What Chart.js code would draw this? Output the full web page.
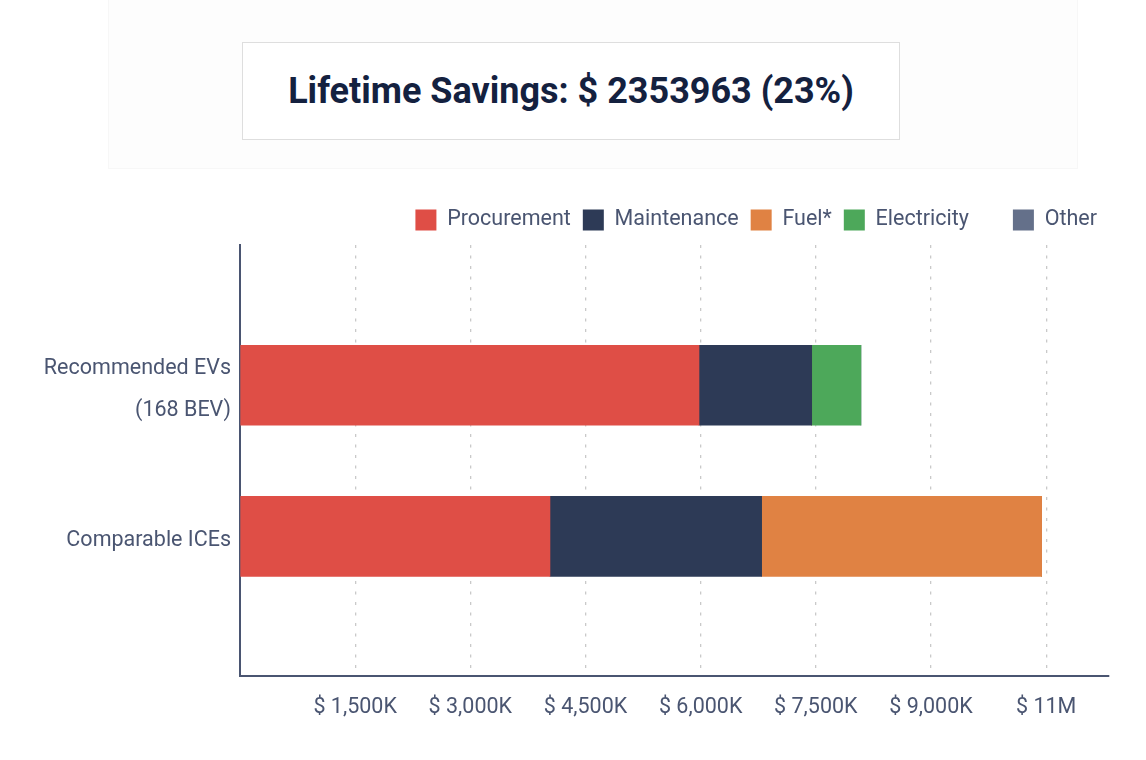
<!DOCTYPE html>
<html>
<head>
<meta charset="utf-8">
<script src="https://cdn.jsdelivr.net/npm/chart.js@4.4.1/dist/chart.umd.min.js"></script>
<style>
  html, body { margin: 0; padding: 0; background: #ffffff; }
  body { width: 1146px; height: 760px; position: relative; overflow: hidden; font-family: Roboto, "Noto Sans", sans-serif; }
  #panel { position: absolute; left: 108px; top: -1px; width: 970px; height: 170px; border: 1px solid #f7f7f7; background: #fdfdfd; box-sizing: border-box; }
  #titleBox { position: absolute; left: 242px; top: 42px; width: 658px; height: 98px; border: 1px solid #dedede; box-sizing: border-box; background: #ffffff;
    display: flex; align-items: center; justify-content: center; z-index: 2;
    font-family: Roboto, sans-serif; font-weight: 700; font-size: 36px; color: #14213f; }
  #wrap { position: absolute; left: 0; top: 0; width: 1146px; height: 760px; z-index: 1; }
</style>
</head>
<body>
<div id="panel"></div>
<div id="titleBox">Lifetime Savings: $ 2353963 (23%)</div>
<div id="wrap"><canvas id="c" width="1146" height="760"></canvas></div>
<script>
// ---- data ----
const categories = [["Recommended EVs", "(168 BEV)"], ["Comparable ICEs"]];
const seriesNames = ["Procurement", "Maintenance", "Fuel*", "Electricity", "Other"];
const procurement = [5978000, 4037000];
const maintenance = [1468000, 2757000];
const fuel = [0, 3647000];
const electricity = [641000, 0];
const other = [0, 0];
const xTickValues = [0, 1500000, 3000000, 4500000, 6000000, 7500000, 9000000, 10500000];
const xMax = 11318000;

const colors = ["#df4e46", "#2d3a56", "#e08243", "#4da85a", "#64708a"];
const textColor = "#4a5571";
const font = { family: "Roboto", size: 21.5 };

const seriesValues = [procurement, maintenance, fuel, electricity, other];
const datasets = seriesNames.map((name, k) => ({
  label: name,
  data: seriesValues[k].map((v, i) => ({ x: v, y: i + 1 })),
  backgroundColor: colors[k],
  borderWidth: 0,
  barThickness: 80
}));

function fmtX(v) {
  if (v === 0) return "";
  if (v >= 10000000) return "$ " + Math.round(v / 1000000) + "M";
  return "$ " + (v / 1000).toLocaleString("en-US") + "K";
}

new Chart(document.getElementById("c"), {
  type: "bar",
  data: { datasets },
  options: {
    indexAxis: "y",
    responsive: false,
    animation: false,
    layout: { padding: { top: 197.25, right: 37, bottom: 0, left: 0 } },
    plugins: {
      tooltip: { enabled: false },
      legend: {
        position: "top",
        align: "end",
        labels: {
          boxWidth: 21,
          boxHeight: 21,
          padding: 12,
          color: textColor,
          font: font,
          generateLabels: (chart) => {
            const items = Chart.defaults.plugins.legend.labels.generateLabels(chart);
            items.forEach(it => {
              it.lineWidth = 0;
              if (it.text === "Electricity") it.text = "Electricity\u00a0\u00a0\u00a0\u00a0\u00a0\u00a0";
            });
            return items;
          }
        }
      }
    },
    scales: {
      x: {
        type: "linear",
        stacked: true,
        min: 0,
        max: xMax,
        position: "bottom",
        grid: {
          display: true,
          drawTicks: false,
          color: "#c9c9c9",
          lineWidth: 1.3
        },
        border: { display: true, color: "#4a5571", width: 2, dash: [3, 7.5] },
        afterBuildTicks: (s) => { s.ticks = xTickValues.map(v => ({ value: v })); },
        ticks: {
          padding: 19,
          color: textColor,
          font: font,
          maxRotation: 0,
          autoSkip: false,
          callback: (v) => fmtX(v)
        },
        afterFit: (s) => { s.height = 84; }
      },
      x2: {
        type: "linear",
        position: "top",
        min: 0, max: 1,
        grid: { display: false, drawTicks: false },
        border: { display: false },
        ticks: { display: false },
        afterFit: (s) => { s.height = 4.25; }
      },
      y: {
        type: "linear",
        stacked: true,
        reverse: true,
        offset: false,
        min: 0.071,
        max: 2.925,
        grid: { display: false, drawTicks: false, offset: false },
        border: { display: true, color: "#4a5571", width: 2 },
        afterBuildTicks: (s) => { s.ticks = categories.map((c, i) => ({ value: i + 1 })); },
        ticks: {
          padding: 9,
          labelOffset: 4,
          color: textColor,
          font: { family: "Roboto", size: 21.5, lineHeight: 1.95 },
          callback: (v) => categories[v - 1] || ""
        },
        afterFit: (s) => { s.width = 240; }
      }
    }
  }
});
</script>
</body>
</html>
